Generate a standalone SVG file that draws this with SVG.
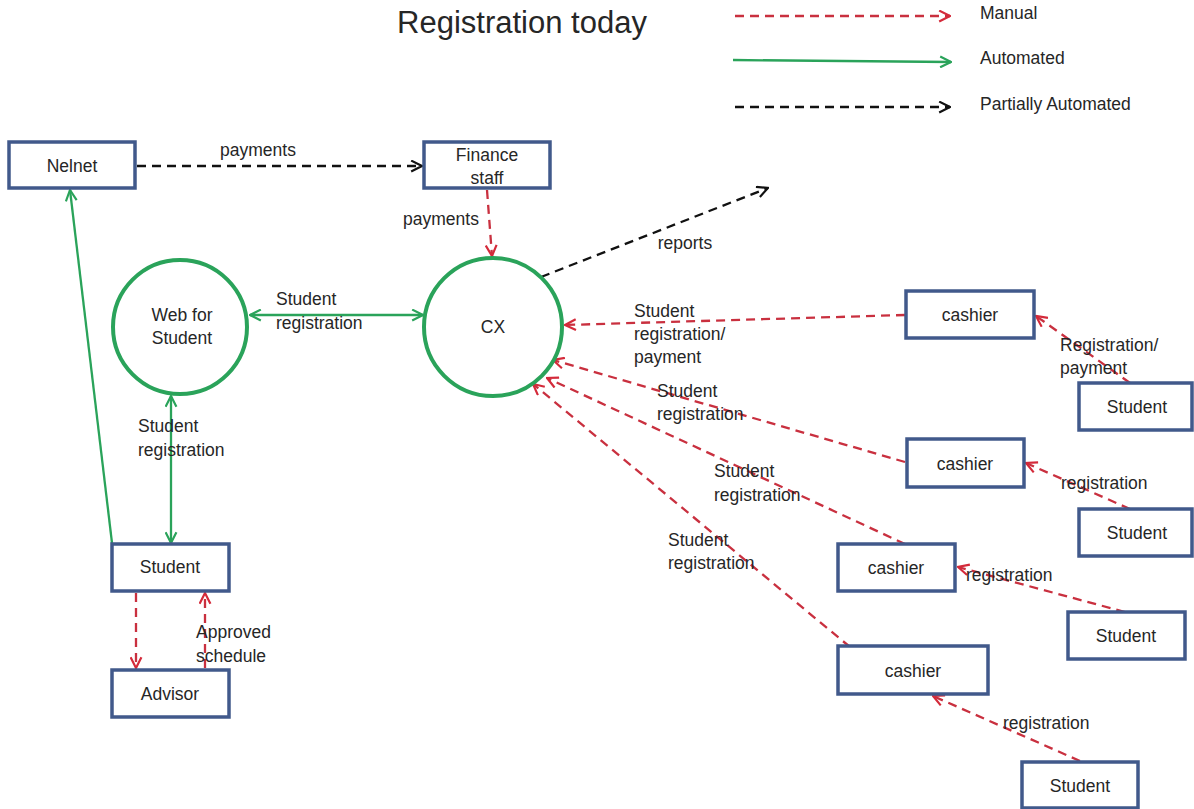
<svg xmlns="http://www.w3.org/2000/svg" width="1194" height="809" viewBox="0 0 1194 809">
<style>
text{font-family:"Liberation Sans",Arial,sans-serif;font-size:17.5px;fill:#262626;text-anchor:middle}
.box{fill:#fff;stroke:#41598b;stroke-width:3.5}
.circ{fill:#fff;stroke:#2aa35a;stroke-width:4}
.man{fill:none;stroke:#c9303f;stroke-width:2.3;stroke-dasharray:9,6}
.auto{fill:none;stroke:#2aa35a;stroke-width:2.3}
.part{fill:none;stroke:#111;stroke-width:2.3;stroke-dasharray:9,6}
.lbl{text-anchor:start}
</style>
<defs>
<marker id="aR" viewBox="0 0 12 12" refX="11" refY="6" markerWidth="13" markerHeight="13" markerUnits="userSpaceOnUse" orient="auto-start-reverse"><path d="M1,1 L11,6 L1,11" fill="none" stroke="#d42a3a" stroke-width="2"/></marker>
<marker id="aG" viewBox="0 0 12 12" refX="11" refY="6" markerWidth="13" markerHeight="13" markerUnits="userSpaceOnUse" orient="auto-start-reverse"><path d="M1,1 L11,6 L1,11" fill="none" stroke="#2aa35a" stroke-width="2"/></marker>
<marker id="aK" viewBox="0 0 12 12" refX="11" refY="6" markerWidth="13" markerHeight="13" markerUnits="userSpaceOnUse" orient="auto-start-reverse"><path d="M1,1 L11,6 L1,11" fill="none" stroke="#111" stroke-width="2"/></marker>
</defs>

<text x="522" y="33" style="font-size:31px">Registration today</text>

<g id="legend">
<line class="man" x1="735" y1="16" x2="950" y2="16" marker-end="url(#aR)"/>
<text class="lbl" x="980" y="19">Manual</text>
<line class="auto" x1="733" y1="60" x2="951" y2="62" marker-end="url(#aG)"/>
<text class="lbl" x="980" y="64">Automated</text>
<line class="part" x1="735" y1="107" x2="950" y2="107" marker-end="url(#aK)"/>
<text class="lbl" x="980" y="110">Partially Automated</text>
</g>

<g id="connectors">
<line class="part" x1="137" y1="166" x2="422" y2="166" marker-end="url(#aK)"/>
<text x="258" y="156">payments</text>
<line class="man" x1="487" y1="190" x2="492" y2="256" marker-end="url(#aR)"/>
<text x="441" y="225">payments</text>
<line class="part" x1="541" y1="277" x2="768" y2="188" marker-end="url(#aK)"/>
<text x="685" y="249">reports</text>
<line class="auto" x1="250" y1="315" x2="423" y2="315" marker-start="url(#aG)" marker-end="url(#aG)"/>
<text class="lbl" x="276" y="305">Student</text>
<text class="lbl" x="276" y="329">registration</text>
<line class="auto" x1="171" y1="396" x2="171" y2="543" marker-start="url(#aG)" marker-end="url(#aG)"/>
<text class="lbl" x="138" y="432">Student</text>
<text class="lbl" x="138" y="456">registration</text>
<line class="auto" x1="112" y1="543" x2="70" y2="190" marker-end="url(#aG)"/>
<line class="man" x1="136" y1="593" x2="136" y2="668" marker-end="url(#aR)"/>
<line class="man" x1="205" y1="668" x2="205" y2="593" marker-end="url(#aR)"/>
<text class="lbl" x="196" y="638">Approved</text>
<text class="lbl" x="196" y="662">schedule</text>

<line class="man" x1="905" y1="315" x2="565" y2="325" marker-end="url(#aR)"/>
<text class="lbl" x="634" y="317">Student</text>
<text class="lbl" x="634" y="340">registration/</text>
<text class="lbl" x="634" y="363">payment</text>
<line class="man" x1="905" y1="462" x2="553" y2="360" marker-end="url(#aR)"/>
<text class="lbl" x="657" y="397">Student</text>
<text class="lbl" x="657" y="420">registration</text>
<line class="man" x1="905" y1="544" x2="547" y2="378" marker-end="url(#aR)"/>
<text class="lbl" x="714" y="477">Student</text>
<text class="lbl" x="714" y="501">registration</text>
<line class="man" x1="850" y1="647" x2="533" y2="384" marker-end="url(#aR)"/>
<text class="lbl" x="668" y="546">Student</text>
<text class="lbl" x="668" y="569">registration</text>

<line class="man" x1="1130" y1="383" x2="1036" y2="316" marker-end="url(#aR)"/>
<text class="lbl" x="1060" y="351">Registration/</text>
<text class="lbl" x="1060" y="374">payment</text>
<line class="man" x1="1130" y1="509" x2="1026" y2="463" marker-end="url(#aR)"/>
<text class="lbl" x="1061" y="489">registration</text>
<line class="man" x1="1125" y1="612" x2="958" y2="567" marker-end="url(#aR)"/>
<text class="lbl" x="966" y="581">registration</text>
<line class="man" x1="1080" y1="761" x2="933" y2="696" marker-end="url(#aR)"/>
<text class="lbl" x="1003" y="729">registration</text>
</g>

<g id="nelnet"><rect class="box" x="9" y="142" width="126" height="46"/><text x="72" y="172">Nelnet</text></g>
<g id="finance"><rect class="box" x="424" y="142" width="126" height="46"/><text x="487" y="161">Finance</text><text x="487" y="184">staff</text></g>
<g id="web"><circle class="circ" cx="180" cy="327" r="67"/><text x="182" y="321">Web for</text><text x="182" y="344">Student</text></g>
<g id="cx"><circle class="circ" cx="493" cy="327" r="69"/><text x="493" y="333">CX</text></g>
<g id="student"><rect class="box" x="112" y="544" width="117" height="47"/><text x="170" y="573">Student</text></g>
<g id="advisor"><rect class="box" x="112" y="670" width="117" height="47"/><text x="170" y="700">Advisor</text></g>
<g id="cashier1"><rect class="box" x="906" y="291" width="128" height="47"/><text x="970" y="321">cashier</text></g>
<g id="student1"><rect class="box" x="1079" y="383" width="113" height="47"/><text x="1137" y="413">Student</text></g>
<g id="cashier2"><rect class="box" x="907" y="439" width="117" height="48"/><text x="965" y="470">cashier</text></g>
<g id="student2"><rect class="box" x="1079" y="509" width="113" height="47"/><text x="1137" y="539">Student</text></g>
<g id="cashier3"><rect class="box" x="838" y="544" width="117" height="47"/><text x="896" y="574">cashier</text></g>
<g id="student3"><rect class="box" x="1068" y="612" width="117" height="47"/><text x="1126" y="642">Student</text></g>
<g id="cashier4"><rect class="box" x="838" y="646" width="150" height="48"/><text x="913" y="677">cashier</text></g>
<g id="student4"><rect class="box" x="1022" y="762" width="116" height="46"/><text x="1080" y="792">Student</text></g>
</svg>
